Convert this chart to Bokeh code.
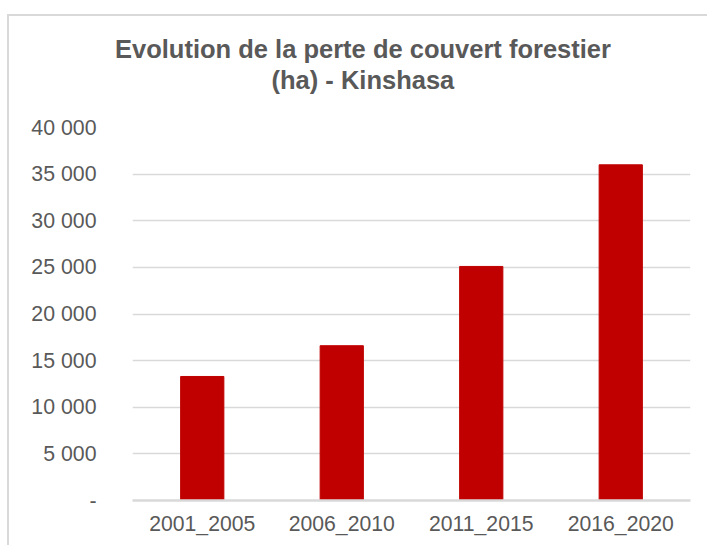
from bokeh.plotting import figure
from bokeh.models import FactorRange, Range1d, FixedTicker, Title
from bokeh.embed import file_html
from bokeh.resources import INLINE

# ---- data ----
categories = ["2001_2005", "2006_2010", "2011_2015", "2016_2020"]
values = [13300, 16600, 25100, 36000]
y_ticks = [0, 5000, 10000, 15000, 20000, 25000, 30000, 35000, 40000]
y_tick_labels = ["-", "5 000", "10 000", "15 000", "20 000", "25 000", "30 000", "35 000", "40 000"]
title_line1 = "Evolution de la perte de couvert forestier"
title_line2 = "(ha) - Kinshasa"

FONT = "Liberation Sans"
TXT = "#595959"
GRID = "#d9d9d9"

p = figure(width=700, height=531, output_backend="svg", toolbar_location=None,
           x_range=FactorRange(*categories, range_padding=0),
           y_range=Range1d(0, 40000),
           min_border_left=123, min_border_right=19,
           min_border_top=111, min_border_bottom=47)
p.background_fill_color = "white"
p.border_fill_color = "white"
p.outline_line_color = None
p.styles = {"border-left": "2px solid #d9d9d9", "border-top": "2px solid #d9d9d9",
            "margin-left": "7px", "margin-top": "14px"}

p.vbar(x=categories, top=values, width=0.31, color="#c00000")

# y axis
p.yaxis.ticker = FixedTicker(ticks=y_ticks)
p.yaxis.major_label_overrides = {t: l for t, l in zip(y_ticks, y_tick_labels)}
p.yaxis.axis_line_color = None
p.yaxis.major_tick_line_color = None
p.yaxis.minor_tick_line_color = None
p.yaxis.major_label_standoff = 30
p.yaxis.major_label_text_font = FONT
p.yaxis.major_label_text_font_size = "21.3px"
p.yaxis.major_label_text_color = TXT

# x axis
p.xaxis.axis_line_color = GRID
p.xaxis.axis_line_width = 2.5
p.xaxis.major_tick_line_color = None
p.xaxis.minor_tick_line_color = None
p.xaxis.major_label_standoff = 5
p.xaxis.major_label_text_font = FONT
p.xaxis.major_label_text_font_size = "21.2px"
p.xaxis.major_label_text_color = TXT

p.xgrid.grid_line_color = None
p.ygrid.grid_line_color = GRID
p.ygrid.grid_line_width = 1.3

# title (two lines, first added is closest to the plot)
p.add_layout(Title(text=title_line2, align="left", offset=139, standoff=68,
                   text_font=FONT, text_font_size="25.5px", text_font_style="bold",
                   text_color=TXT), "above")
p.add_layout(Title(text=title_line1, align="left", offset=-17.5, standoff=-67,
                   text_font=FONT, text_font_size="25.5px", text_font_style="bold",
                   text_color=TXT), "above")

open("out.html", "w").write(file_html(p, INLINE))
